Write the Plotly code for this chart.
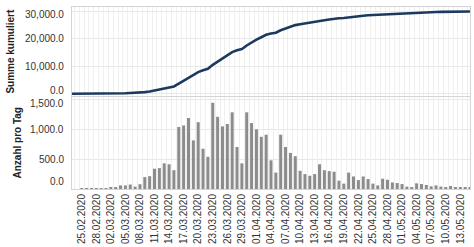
import plotly.graph_objects as go
import pandas as pd

# ---- data ----
dates = pd.date_range("2020-02-23", "2020-05-15", freq="D")

daily = [0, 0, 2, 3, 5, 6, 8, 10, 30, 30, 60, 60, 75, 40, 80, 200, 215, 340, 350, 430,
         415, 315, 1040, 1065, 1190, 815, 1120, 675, 540, 1445, 1210, 1050, 1090, 1285,
         705, 430, 1285, 1105, 1000, 875, 910, 480, 275, 910, 705, 605, 550, 305, 250,
         222, 250, 415, 315, 300, 290, 140, 90, 275, 210, 150, 210, 167, 90, 60, 172,
         155, 110, 100, 83, 40, 22, 95, 83, 67, 45, 60, 40, 22, 50, 33, 22, 30, 20]

cumulative = [0, 0, 2, 5, 10, 16, 24, 34, 64, 94, 154, 214, 289, 329, 409, 609, 824,
              1164, 1514, 1944, 2359, 2674, 3714, 4779, 5969, 6784, 7904, 8579, 9119,
              10564, 11774, 12824, 13914, 15199, 15904, 16334, 17619, 18724, 19724,
              20599, 21509, 21989, 22264, 23174, 23879, 24484, 25034, 25339, 25589,
              25811, 26061, 26476, 26791, 27091, 27381, 27521, 27611, 27886, 28096,
              28246, 28456, 28623, 28713, 28773, 28945, 29100, 29210, 29310, 29393,
              29433, 29455, 29550, 29633, 29700, 29745, 29805, 29845, 29867, 29917,
              29950, 29972, 30002, 30022]

tick_labels = ["25.02.2020", "28.02.2020", "02.03.2020", "05.03.2020", "08.03.2020",
               "11.03.2020", "14.03.2020", "17.03.2020", "20.03.2020", "23.03.2020",
               "26.03.2020", "29.03.2020", "01.04.2020", "04.04.2020", "07.04.2020",
               "10.04.2020", "13.04.2020", "16.04.2020", "19.04.2020", "22.04.2020",
               "25.04.2020", "28.04.2020", "01.05.2020", "04.05.2020", "07.05.2020",
               "10.05.2020", "13.05.2020"]
tick_vals = pd.to_datetime(tick_labels, format="%d.%m.%Y")

upper_ticks = [0, 10000, 20000, 30000]
upper_labels = ["0.0", "10,000.0", "20,000.0", "30,000.0"]
lower_ticks = [0, 500, 1000, 1500]
lower_labels = ["0.0", "500.0", "1,000.0", "1,500.0"]

# ---- style ----
FONT = "Liberation Sans, Arial, sans-serif"
TXT = "#333333"
GRID = "#e8e8e8"
VGRID = "#efefef"
FRAME = "#d4d4d4"

fig = go.Figure()
fig.add_trace(go.Scatter(x=dates, y=cumulative, mode="lines",
                         line=dict(color="#1c3a5e", width=2.6),
                         xaxis="x2", yaxis="y2", showlegend=False))
fig.add_trace(go.Bar(x=dates, y=daily, marker=dict(color="#8c8c8c", line=dict(width=0)),
                     xaxis="x", yaxis="y", showlegend=False))

xrange = ["2020-02-23", "2020-05-15"]
minor = dict(tick0="2020-02-22 12:00", dtick=86400000, showgrid=True,
             gridcolor=VGRID, gridwidth=1, ticks="")

# y tick labels as annotations; the outermost ones are nudged inward like the reference
annotations = []
upper_shift = [3, 0, 0, -3]
for v, t, s in zip(upper_ticks, upper_labels, upper_shift):
    annotations.append(dict(text=t, xref="paper", yref="y2", x=0, y=v, xshift=-6,
                            yshift=s, xanchor="right", yanchor="middle", showarrow=False,
                            font=dict(family=FONT, size=10, color=TXT)))
lower_shift = [7, 0, 0, -4]
for v, t, s in zip(lower_ticks, lower_labels, lower_shift):
    annotations.append(dict(text=t, xref="paper", yref="y", x=0, y=v, xshift=-6,
                            yshift=s, xanchor="right", yanchor="middle", showarrow=False,
                            font=dict(family=FONT, size=10, color=TXT)))
annotations += [
    dict(text="<b>Summe kumuliert</b>", xref="paper", yref="paper",
         x=0, xshift=-61, y=0.755, textangle=-90, showarrow=False,
         xanchor="center", yanchor="middle",
         font=dict(family=FONT, size=10, color="#222222")),
    dict(text="<b>Anzahl pro Tag</b>", xref="paper", yref="paper",
         x=0, xshift=-55, y=0.25, textangle=-90, showarrow=False,
         xanchor="center", yanchor="middle",
         font=dict(family=FONT, size=10, color="#222222")),
]

fig.update_layout(
    width=474, height=247,
    margin=dict(l=72, r=4, t=7, b=58),
    paper_bgcolor="white", plot_bgcolor="white",
    font=dict(family=FONT, size=10, color=TXT),
    bargap=0.38,
    xaxis=dict(type="date", range=xrange, domain=[0, 1], anchor="y",
               tickmode="array", tickvals=tick_vals, ticktext=tick_labels,
               tickangle=-90, tickfont=dict(size=10, color=TXT),
               showgrid=False, minor=minor, ticks="",
               showline=True, linecolor=FRAME, mirror=True, zeroline=False),
    xaxis2=dict(type="date", range=xrange, domain=[0, 1], anchor="y2",
                matches="x", showticklabels=False, showgrid=False, minor=minor,
                ticks="", showline=True, linecolor=FRAME, mirror=True, zeroline=False),
    yaxis=dict(domain=[0, 0.5055], range=[0, 1542], tickmode="array",
               tickvals=lower_ticks, showticklabels=False, ticks="",
               gridcolor=GRID, zeroline=False, showline=True, linecolor=FRAME,
               mirror=True),
    yaxis2=dict(domain=[0.511, 1], range=[-800, 31640], tickmode="array",
                tickvals=upper_ticks, showticklabels=False, ticks="",
                gridcolor=GRID, zeroline=False, showline=True, linecolor=FRAME,
                mirror=True),
    annotations=annotations,
)

fig.write_html("out.html")
